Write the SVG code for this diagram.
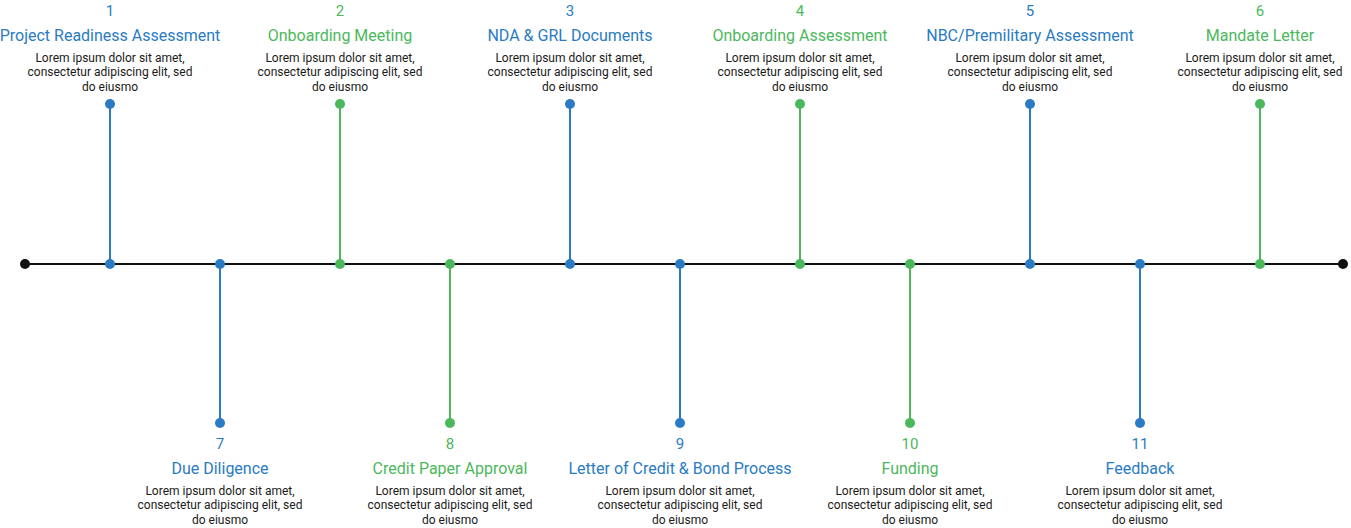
<svg xmlns="http://www.w3.org/2000/svg" width="1351" height="528" viewBox="0 0 1351 528">
  <style>
    text { font-family: Roboto, "Noto Sans", "Liberation Sans", sans-serif; text-anchor: middle; }
    .num { font-size: 15px; }
    .title { font-size: 16px; }
    .body { font-size: 12px; fill: #1a1a1a; }
    .blue { fill: #2a7bc3; }
    .green { fill: #4cb85c; }
    .stem-blue { stroke: #2a7bc3; stroke-width: 2; }
    .stem-green { stroke: #4cb85c; stroke-width: 2; }
    .axis { stroke: #111; stroke-width: 2; }
  </style>

  <!-- timeline axis and stems -->
  <g id="connectors">
    <line class="axis" x1="25" y1="264" x2="1343" y2="264"/>
    <circle cx="25" cy="264" r="5" fill="#111"/>
    <circle cx="1343" cy="264" r="5" fill="#111"/>
    <line class="stem-blue" x1="110" y1="104" x2="110" y2="264"/>
    <line class="stem-green" x1="340" y1="104" x2="340" y2="264"/>
    <line class="stem-blue" x1="570" y1="104" x2="570" y2="264"/>
    <line class="stem-green" x1="800" y1="104" x2="800" y2="264"/>
    <line class="stem-blue" x1="1030" y1="104" x2="1030" y2="264"/>
    <line class="stem-green" x1="1260" y1="104" x2="1260" y2="264"/>
    <line class="stem-blue" x1="220" y1="264" x2="220" y2="423"/>
    <line class="stem-green" x1="450" y1="264" x2="450" y2="423"/>
    <line class="stem-blue" x1="680" y1="264" x2="680" y2="423"/>
    <line class="stem-green" x1="910" y1="264" x2="910" y2="423"/>
    <line class="stem-blue" x1="1140" y1="264" x2="1140" y2="423"/>
  </g>

  <!-- upper milestones -->
  <g id="step1">
    <circle class="blue" cx="110" cy="104" r="5"/>
    <circle class="blue" cx="110" cy="264" r="5"/>
    <text class="num blue" x="110" y="16">1</text>
    <text class="title blue" x="110" y="41">Project Readiness Assessment</text>
    <text class="body" x="110" y="62">Lorem ipsum dolor sit amet,</text>
    <text class="body" x="110" y="76">consectetur adipiscing elit, sed</text>
    <text class="body" x="110" y="91">do eiusmo</text>
  </g>
  <g id="step2">
    <circle class="green" cx="340" cy="104" r="5"/>
    <circle class="green" cx="340" cy="264" r="5"/>
    <text class="num green" x="340" y="16">2</text>
    <text class="title green" x="340" y="41">Onboarding Meeting</text>
    <text class="body" x="340" y="62">Lorem ipsum dolor sit amet,</text>
    <text class="body" x="340" y="76">consectetur adipiscing elit, sed</text>
    <text class="body" x="340" y="91">do eiusmo</text>
  </g>
  <g id="step3">
    <circle class="blue" cx="570" cy="104" r="5"/>
    <circle class="blue" cx="570" cy="264" r="5"/>
    <text class="num blue" x="570" y="16">3</text>
    <text class="title blue" x="570" y="41">NDA &amp; GRL Documents</text>
    <text class="body" x="570" y="62">Lorem ipsum dolor sit amet,</text>
    <text class="body" x="570" y="76">consectetur adipiscing elit, sed</text>
    <text class="body" x="570" y="91">do eiusmo</text>
  </g>
  <g id="step4">
    <circle class="green" cx="800" cy="104" r="5"/>
    <circle class="green" cx="800" cy="264" r="5"/>
    <text class="num green" x="800" y="16">4</text>
    <text class="title green" x="800" y="41">Onboarding Assessment</text>
    <text class="body" x="800" y="62">Lorem ipsum dolor sit amet,</text>
    <text class="body" x="800" y="76">consectetur adipiscing elit, sed</text>
    <text class="body" x="800" y="91">do eiusmo</text>
  </g>
  <g id="step5">
    <circle class="blue" cx="1030" cy="104" r="5"/>
    <circle class="blue" cx="1030" cy="264" r="5"/>
    <text class="num blue" x="1030" y="16">5</text>
    <text class="title blue" x="1030" y="41">NBC/Premilitary Assessment</text>
    <text class="body" x="1030" y="62">Lorem ipsum dolor sit amet,</text>
    <text class="body" x="1030" y="76">consectetur adipiscing elit, sed</text>
    <text class="body" x="1030" y="91">do eiusmo</text>
  </g>
  <g id="step6">
    <circle class="green" cx="1260" cy="104" r="5"/>
    <circle class="green" cx="1260" cy="264" r="5"/>
    <text class="num green" x="1260" y="16">6</text>
    <text class="title green" x="1260" y="41">Mandate Letter</text>
    <text class="body" x="1260" y="62">Lorem ipsum dolor sit amet,</text>
    <text class="body" x="1260" y="76">consectetur adipiscing elit, sed</text>
    <text class="body" x="1260" y="91">do eiusmo</text>
  </g>

  <!-- lower milestones -->
  <g id="step7">
    <circle class="blue" cx="220" cy="264" r="5"/>
    <circle class="blue" cx="220" cy="423" r="5"/>
    <text class="num blue" x="220" y="449">7</text>
    <text class="title blue" x="220" y="474">Due Diligence</text>
    <text class="body" x="220" y="495">Lorem ipsum dolor sit amet,</text>
    <text class="body" x="220" y="509">consectetur adipiscing elit, sed</text>
    <text class="body" x="220" y="524">do eiusmo</text>
  </g>
  <g id="step8">
    <circle class="green" cx="450" cy="264" r="5"/>
    <circle class="green" cx="450" cy="423" r="5"/>
    <text class="num green" x="450" y="449">8</text>
    <text class="title green" x="450" y="474">Credit Paper Approval</text>
    <text class="body" x="450" y="495">Lorem ipsum dolor sit amet,</text>
    <text class="body" x="450" y="509">consectetur adipiscing elit, sed</text>
    <text class="body" x="450" y="524">do eiusmo</text>
  </g>
  <g id="step9">
    <circle class="blue" cx="680" cy="264" r="5"/>
    <circle class="blue" cx="680" cy="423" r="5"/>
    <text class="num blue" x="680" y="449">9</text>
    <text class="title blue" x="680" y="474">Letter of Credit &amp; Bond Process</text>
    <text class="body" x="680" y="495">Lorem ipsum dolor sit amet,</text>
    <text class="body" x="680" y="509">consectetur adipiscing elit, sed</text>
    <text class="body" x="680" y="524">do eiusmo</text>
  </g>
  <g id="step10">
    <circle class="green" cx="910" cy="264" r="5"/>
    <circle class="green" cx="910" cy="423" r="5"/>
    <text class="num green" x="910" y="449">10</text>
    <text class="title green" x="910" y="474">Funding</text>
    <text class="body" x="910" y="495">Lorem ipsum dolor sit amet,</text>
    <text class="body" x="910" y="509">consectetur adipiscing elit, sed</text>
    <text class="body" x="910" y="524">do eiusmo</text>
  </g>
  <g id="step11">
    <circle class="blue" cx="1140" cy="264" r="5"/>
    <circle class="blue" cx="1140" cy="423" r="5"/>
    <text class="num blue" x="1140" y="449">11</text>
    <text class="title blue" x="1140" y="474">Feedback</text>
    <text class="body" x="1140" y="495">Lorem ipsum dolor sit amet,</text>
    <text class="body" x="1140" y="509">consectetur adipiscing elit, sed</text>
    <text class="body" x="1140" y="524">do eiusmo</text>
  </g>
</svg>
